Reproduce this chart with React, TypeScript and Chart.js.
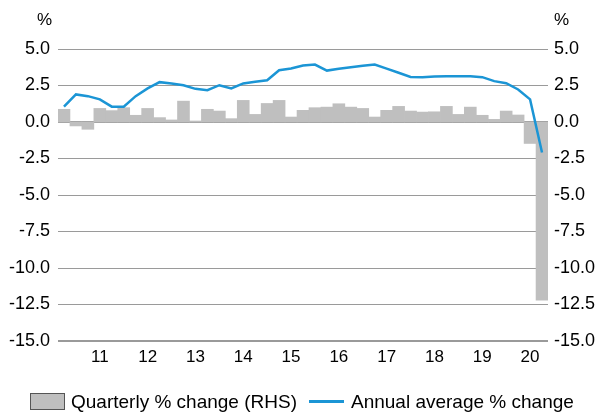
import React, { useEffect, useRef } from "react";
import { Chart, registerables } from "chart.js";

Chart.register(...registerables);

const quarters: string[] = [
  "Jun-10", "Sep-10", "Dec-10",
  "Mar-11", "Jun-11", "Sep-11", "Dec-11",
  "Mar-12", "Jun-12", "Sep-12", "Dec-12",
  "Mar-13", "Jun-13", "Sep-13", "Dec-13",
  "Mar-14", "Jun-14", "Sep-14", "Dec-14",
  "Mar-15", "Jun-15", "Sep-15", "Dec-15",
  "Mar-16", "Jun-16", "Sep-16", "Dec-16",
  "Mar-17", "Jun-17", "Sep-17", "Dec-17",
  "Mar-18", "Jun-18", "Sep-18", "Dec-18",
  "Mar-19", "Jun-19", "Sep-19", "Dec-19",
  "Mar-20", "Jun-20",
];

const quarterlyChange: number[] = [
  0.87, -0.27, -0.5,
  0.93, 0.78, 0.98, 0.46,
  0.93, 0.3, 0.14, 1.43,
  0.07, 0.87, 0.75, 0.23,
  1.48, 0.52, 1.27, 1.48,
  0.34, 0.8, 0.98, 1.02,
  1.25, 1.02, 0.93, 0.34,
  0.8, 1.07, 0.75, 0.68,
  0.7, 1.07, 0.52, 1.02,
  0.46, 0.18, 0.75, 0.48,
  -1.47, -12.2,
];

const annualAverage: number[] = [
  1.05, 1.89, 1.77,
  1.55, 1.05, 1.05, 1.77,
  2.3, 2.73, 2.64, 2.52,
  2.27, 2.18, 2.52, 2.3,
  2.64, 2.75, 2.86, 3.55,
  3.66, 3.87, 3.93, 3.52,
  3.64, 3.75, 3.86, 3.93,
  3.66, 3.37, 3.09, 3.07,
  3.12, 3.14, 3.14, 3.14,
  3.07, 2.8, 2.66, 2.23,
  1.55, -2.09,
];

const yMin = -15;
const yMax = 5;
const yStep = 2.5;

const FONT = "'Liberation Sans', Arial, sans-serif";
const BAR_COLOR = "#bfbfbf";
const LINE_COLOR = "#1b95d5";

export default function App() {
  const canvasRef = useRef<HTMLCanvasElement | null>(null);

  useEffect(() => {
    const canvas = canvasRef.current;
    if (!canvas) return;
    const chart = new Chart(canvas, {
      type: "bar",
      data: {
        labels: quarters,
        datasets: [
          {
            type: "line",
            label: "Annual average % change",
            data: annualAverage,
            borderColor: LINE_COLOR,
            backgroundColor: LINE_COLOR,
            borderWidth: 2.5,
            pointRadius: 0,
            tension: 0,
            yAxisID: "yL",
            order: 0,
          } as any,
          {
            type: "bar",
            label: "Quarterly % change (RHS)",
            data: quarterlyChange,
            backgroundColor: BAR_COLOR,
            borderWidth: 0,
            categoryPercentage: 1,
            barPercentage: 1,
            yAxisID: "yR",
            order: 1,
          } as any,
        ],
      },
      options: {
        responsive: false,
        animation: false,
        layout: { padding: { top: 49, bottom: 43, left: 0, right: 0 } },
        plugins: {
          legend: { display: false },
          tooltip: { enabled: false },
          title: { display: false },
        },
        scales: {
          x: {
            grid: { display: false, drawTicks: false },
            border: { display: false },
            afterFit: (s: any) => {
              s.height = 30;
            },
            ticks: {
              autoSkip: false,
              maxRotation: 0,
              padding: 6,
              color: "#000",
              font: { family: FONT, size: 17 },
              callback: function (this: any, _v: any, i: number) {
                const q = quarters[i];
                return q.startsWith("Mar") ? q.slice(4) : "";
              },
            },
          },
          yL: {
            position: "left",
            min: yMin,
            max: yMax,
            border: { display: false },
            afterFit: (s: any) => {
              s.width = 58;
            },
            grid: {
              drawTicks: false,
              color: "#9a9a9a",
              lineWidth: (ctx: any) =>
                ctx.tick && (ctx.tick.value === 0 || ctx.tick.value === yMin) ? 2 : 1,
            },
            ticks: {
              stepSize: yStep,
              padding: 8,
              color: "#000",
              font: { family: FONT, size: 18 },
              callback: (v: any) => Number(v).toFixed(1),
            },
          },
          yR: {
            position: "right",
            min: yMin,
            max: yMax,
            border: { display: false },
            afterFit: (s: any) => {
              s.width = 53;
            },
            grid: { display: false, drawTicks: false },
            ticks: {
              stepSize: yStep,
              padding: 6,
              color: "#000",
              font: { family: FONT, size: 18 },
              callback: (v: any) => Number(v).toFixed(1),
            },
          },
        },
      },
    });
    return () => chart.destroy();
  }, []);

  const textStyle: React.CSSProperties = {
    position: "absolute",
    fontFamily: FONT,
    color: "#000",
    whiteSpace: "nowrap",
    lineHeight: 1,
  };

  return (
    <div
      style={{
        position: "fixed",
        left: 0,
        top: 0,
        width: 601,
        height: 414,
        background: "#fff",
        overflow: "hidden",
      }}
    >
      <canvas
        ref={canvasRef}
        width={601}
        height={414}
        style={{ position: "absolute", left: 0, top: 0, width: 601, height: 414 }}
      />
      <div style={{ ...textStyle, left: 37, top: 11, fontSize: 17 }}>%</div>
      <div style={{ ...textStyle, left: 554, top: 11, fontSize: 17 }}>%</div>
      <div style={{ ...textStyle, left: 30, top: 392, fontSize: 19, display: "flex", alignItems: "center" }}>
        <span
          style={{
            display: "inline-block",
            width: 35,
            height: 17,
            background: BAR_COLOR,
            border: "1px solid #555",
            boxSizing: "border-box",
            marginRight: 6,
          }}
        />
        <span>Quarterly % change (RHS)</span>
        <span
          style={{
            display: "inline-block",
            width: 35,
            height: 2.5,
            background: LINE_COLOR,
            marginLeft: 12,
            marginRight: 7,
          }}
        />
        <span>Annual average % change</span>
      </div>
    </div>
  );
}
